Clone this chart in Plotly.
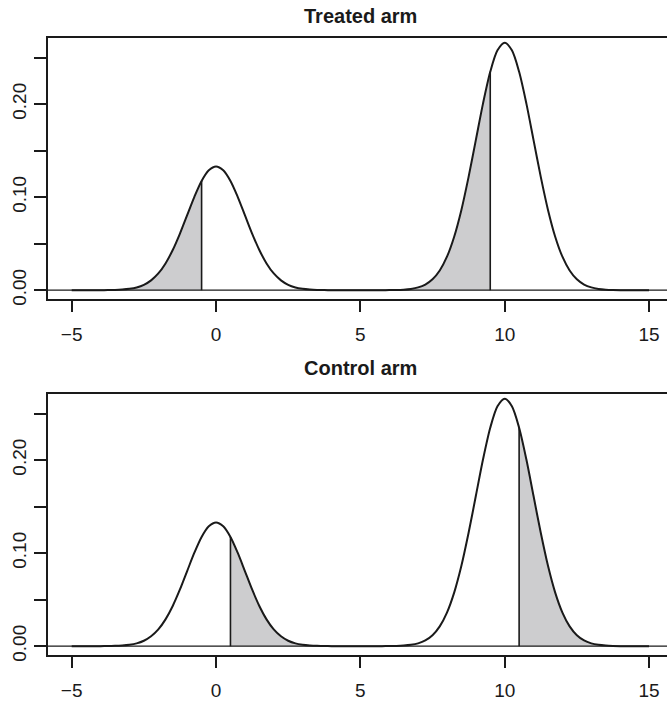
import plotly.graph_objects as go

# ---- data ----
x_grid = [-5.0, -4.75, -4.5, -4.25, -4.0, -3.75, -3.5, -3.25, -3.0, -2.75, -2.5, -2.25,
          -2.0, -1.75, -1.5, -1.25, -1.0, -0.75, -0.5, -0.25, 0.0, 0.25, 0.5, 0.75,
          1.0, 1.25, 1.5, 1.75, 2.0, 2.25, 2.5, 2.75, 3.0, 3.25, 3.5, 3.75,
          4.0, 4.25, 4.5, 4.75, 5.0, 5.25, 5.5, 5.75, 6.0, 6.25, 6.5, 6.75,
          7.0, 7.25, 7.5, 7.75, 8.0, 8.25, 8.5, 8.75, 9.0, 9.25, 9.5, 9.75,
          10.0, 10.25, 10.5, 10.75, 11.0, 11.25, 11.5, 11.75, 12.0, 12.25, 12.5, 12.75,
          13.0, 13.25, 13.5, 13.75, 14.0, 14.25, 14.5, 14.75, 15.0]
density = [0.0, 0.0, 0.0, 0.0, 0.0, 0.0001, 0.0003, 0.0007, 0.0015, 0.0030, 0.0058, 0.0106,
           0.0180, 0.0288, 0.0432, 0.0609, 0.0807, 0.1004, 0.1174, 0.1289, 0.1330, 0.1289, 0.1174, 0.1004,
           0.0807, 0.0609, 0.0432, 0.0288, 0.0180, 0.0106, 0.0058, 0.0030, 0.0015, 0.0007, 0.0003, 0.0001,
           0.0, 0.0, 0.0, 0.0, 0.0, 0.0, 0.0, 0.0, 0.0001, 0.0002, 0.0006, 0.0014,
           0.0030, 0.0061, 0.0117, 0.0212, 0.0360, 0.0575, 0.0863, 0.1218, 0.1613, 0.2008, 0.2347, 0.2578,
           0.2660, 0.2578, 0.2347, 0.2008, 0.1613, 0.1218, 0.0863, 0.0575, 0.0360, 0.0212, 0.0117, 0.0061,
           0.0030, 0.0014, 0.0006, 0.0002, 0.0, 0.0, 0.0, 0.0, 0.0]

panel_titles = ["Treated arm", "Control arm"]
# shaded intervals (lower, upper) for each panel
shaded = {
    "Treated arm": [(-5.0, -0.5), (5.0, 9.5)],
    "Control arm": [(0.5, 5.0), (10.5, 15.0)],
}
x_ticks = [-5, 0, 5, 10, 15]
y_ticks = [0.0, 0.05, 0.10, 0.15, 0.20, 0.25]
y_ticktext = ["0.00", "", "0.10", "", "0.20", ""]

# ---- styling ----
W, H = 667, 703
INK = "#1a1a1a"
FILL = "#cdcdcf"
FONT = "Liberation Sans, Arial, Helvetica, sans-serif"

# pixel geometry of the two plot regions (left, right, top, bottom)
panels_px = [(48, 667, 38, 302), (48, 667, 397, 661)]
x_range = [-5.821, 15.623]
y_range = [-0.0099, 0.2714]
title_y_px = [16, 371]

fig = go.Figure()
layout_axes = {}

for i, name in enumerate(panel_titles):
    xa = "x" if i == 0 else f"x{i+1}"
    ya = "y" if i == 0 else f"y{i+1}"
    xkey = "xaxis" if i == 0 else f"xaxis{i+1}"
    ykey = "yaxis" if i == 0 else f"yaxis{i+1}"
    l, r, t, b = panels_px[i]

    # shaded regions
    for lo, hi in shaded[name]:
        xs = [xv for xv in x_grid if lo <= xv <= hi]
        ys = [density[x_grid.index(xv)] for xv in xs]
        fig.add_trace(go.Scatter(x=xs, y=ys, mode="lines", fill="tozeroy",
                                 fillcolor=FILL, line=dict(color="rgba(0,0,0,0)", width=0, shape="spline", smoothing=0.8),
                                 xaxis=xa, yaxis=ya, hoverinfo="skip", showlegend=False))

    # horizontal line at 0 across the panel
    fig.add_shape(type="line", xref=f"{xa} domain", yref=ya, x0=0, x1=1, y0=0, y1=0,
                  line=dict(color=INK, width=1.3), layer="above")

    # density curve
    fig.add_trace(go.Scatter(x=x_grid, y=density, mode="lines",
                             line=dict(color=INK, width=2, shape="spline", smoothing=0.8),
                             xaxis=xa, yaxis=ya, hoverinfo="skip", showlegend=False))

    # vertical cut lines
    for lo, hi in shaded[name]:
        cut = hi if name == "Treated arm" else lo
        cy = density[x_grid.index(cut)]
        fig.add_trace(go.Scatter(x=[cut, cut], y=[0, cy], mode="lines",
                                 line=dict(color=INK, width=1.6),
                                 xaxis=xa, yaxis=ya, hoverinfo="skip", showlegend=False))

    layout_axes[xkey] = dict(
        domain=[l / W, r / W], range=x_range, anchor=ya,
        showline=True, linecolor=INK, linewidth=1.7, mirror=True,
        ticks="outside", ticklen=11, tickwidth=1.5, tickcolor=INK,
        tickvals=x_ticks, ticktext=[("\u2212" + str(-v)) if v < 0 else str(v) for v in x_ticks],
        tickfont=dict(family=FONT, size=19, color=INK), ticklabelstandoff=6,
        showgrid=False, zeroline=False, fixedrange=True,
    )
    layout_axes[ykey] = dict(
        domain=[1 - b / H, 1 - t / H], range=y_range, anchor=xa,
        showline=True, linecolor=INK, linewidth=1.7, mirror=False,
        ticks="outside", ticklen=12, tickwidth=1.5, tickcolor=INK,
        tickvals=y_ticks, ticktext=y_ticktext, tickangle=-90,
        tickfont=dict(family=FONT, size=19, color=INK), ticklabelstandoff=1,
        showgrid=False, zeroline=False, fixedrange=True,
    )
    fig.add_annotation(text=f"<b>{name}</b>", xref="paper", yref="paper",
                       x=360 / W, y=1 - title_y_px[i] / H, xanchor="center", yanchor="middle",
                       showarrow=False, font=dict(family=FONT, size=20, color=INK))

fig.update_layout(
    width=W, height=H, margin=dict(l=0, r=0, t=0, b=0),
    paper_bgcolor="white", plot_bgcolor="white",
    showlegend=False, **layout_axes,
)

fig.write_html("out.html", config={"displayModeBar": False},
               post_script="document.body.style.margin='0px';document.body.style.overflow='hidden';")
